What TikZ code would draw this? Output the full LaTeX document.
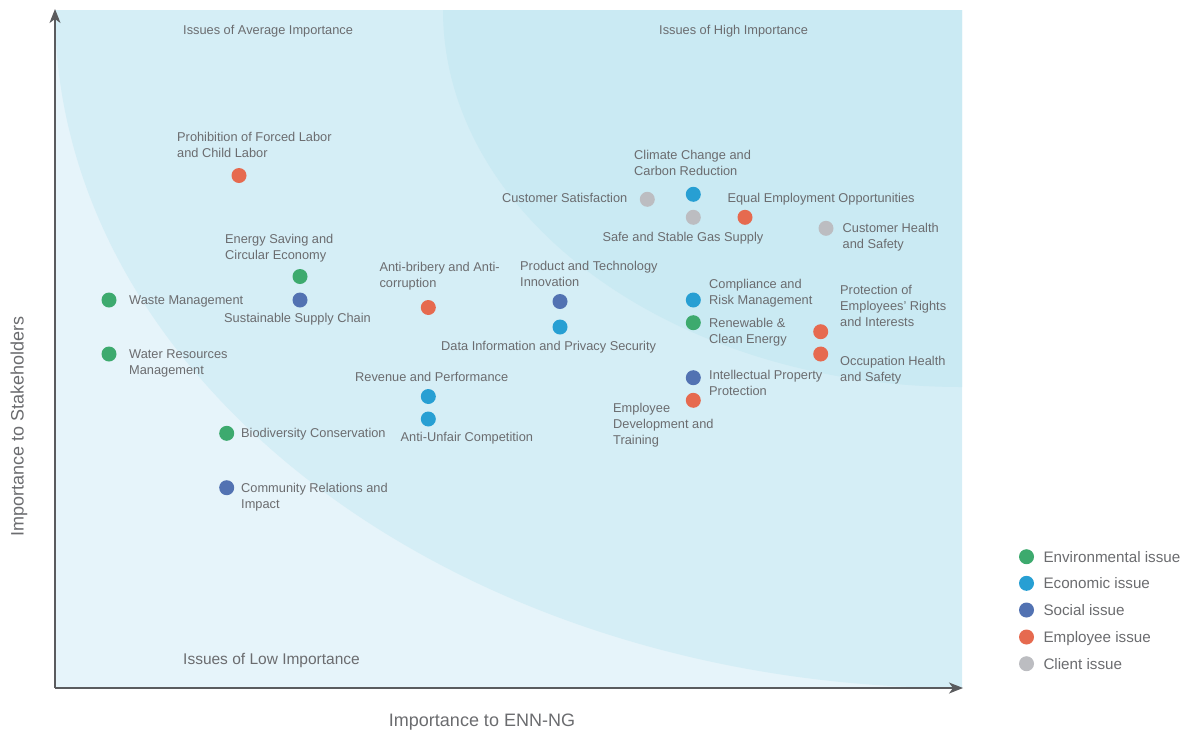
\documentclass[tikz,border=0pt]{standalone}
\usepackage{fontspec}
\setmainfont{Liberation Sans}
\usetikzlibrary{arrows.meta}
\definecolor{bglow}{HTML}{E6F4FA}
\definecolor{bgmid}{HTML}{D5EEF6}
\definecolor{bghigh}{HTML}{CAEAF3}
\definecolor{axisc}{HTML}{5A5B5E}
\definecolor{txt}{HTML}{6B6C6F}
\definecolor{envc}{HTML}{3DAA6E}
\definecolor{ecoc}{HTML}{279FD3}
\definecolor{socc}{HTML}{5272B2}
\definecolor{empc}{HTML}{E66A4F}
\definecolor{clic}{HTML}{BCBDC1}
\newcommand{\mlines}[1]{\begin{tabular}[t]{@{}l@{}}#1\end{tabular}}
\begin{document}
\begin{tikzpicture}[x=1pt,y=-1pt,
  dot/.style={circle,inner sep=0pt,minimum size=15pt,fill=#1},
  lbl/.style={anchor=base west,inner sep=0pt,text=txt,font=\fontsize{12.8}{16}\selectfont},
  lblr/.style={lbl,anchor=base east},
  zone/.style={lbl},
  leg/.style={anchor=base west,inner sep=0pt,text=txt,font=\fontsize{15.2}{18}\selectfont},
  axlbl/.style={inner sep=0pt,text=txt,font=\fontsize{18}{20}\selectfont},
  axisline/.style={draw=axisc,line width=1.3pt,-{Stealth[length=14pt,width=11pt,inset=4pt]}}]
\useasboundingbox (0,0) rectangle (1183,732);
% background zones
\fill[bglow] (55,10) rectangle (962,688);
\begin{scope}
  \clip (55,10) rectangle (962,688);
  \fill[bgmid] (962,10) ellipse [x radius=907, y radius=678];
  \fill[bghigh] (962,10) ellipse [x radius=519, y radius=377];
\end{scope}
% axes
\coordinate (O) at (55,688);
\coordinate (ytop) at (55,9);
\coordinate (xend) at (963,688);
\draw[axisline] (O) -- (ytop);
\draw[axisline] (O) -- (xend);
% zone labels
\node[zone] (zavg) at (183,34.5) {Issues of Average Importance};
\node[zone] (zhigh) at (659,34.5) {Issues of High Importance};
\node[zone,font=\fontsize{15.5}{18}\selectfont] (zlow) at (183,664) {Issues of Low Importance};
% axis labels
\node[axlbl,anchor=base] (xl) at (482,726.5) {Importance to ENN-NG};
\node[axlbl,anchor=base,rotate=90] (yl) at (23.5,426.5) {Importance to Stakeholders};
% issues
\node[dot=empc] (d1) at (239,175.5) {};
\node[lbl] (l1) at (177,141.7) {\mlines{Prohibition of Forced Labor\\and Child Labor}};
\node[dot=envc] (d2) at (300,276.5) {};
\node[lbl] (l2) at (225,243) {\mlines{Energy Saving and\\Circular Economy}};
\node[dot=socc] (d3) at (300,300) {};
\node[lbl] (l3) at (224,322.5) {Sustainable Supply Chain};
\node[dot=envc] (d4) at (109,300) {};
\node[lbl] (l4) at (129,304.5) {Waste Management};
\node[dot=envc] (d5) at (109,354) {};
\node[lbl] (l5) at (129,358.5) {\mlines{Water Resources\\Management}};
\node[dot=empc] (d6) at (428.3,307.5) {};
\node[lbl] (l6) at (379.3,271.7) {\mlines{Anti-bribery and Anti-\\corruption}};
\node[dot=socc] (d7) at (560,301.5) {};
\node[lbl] (l7) at (520,270) {\mlines{Product and Technology\\Innovation}};
\node[dot=ecoc] (d8) at (560,327) {};
\node[lbl] (l8) at (441,350) {Data Information and Privacy Security};
\node[dot=ecoc] (d9) at (428.3,396.5) {};
\node[lbl] (l9) at (355,381.7) {Revenue and Performance};
\node[dot=ecoc] (d10) at (428.3,419) {};
\node[lbl] (l10) at (400.5,441.7) {Anti-Unfair Competition};
\node[dot=envc] (d11) at (226.7,433.3) {};
\node[lbl] (l11) at (241,437.8) {Biodiversity Conservation};
\node[dot=socc] (d12) at (226.7,487.7) {};
\node[lbl] (l12) at (241,492) {\mlines{Community Relations and\\Impact}};
\node[dot=ecoc] (d13) at (693.3,194.3) {};
\node[lbl] (l13) at (634,159.5) {\mlines{Climate Change and\\Carbon Reduction}};
\node[dot=clic] (d14) at (647.3,199.3) {};
\node[lblr] (l14) at (627.5,202) {Customer Satisfaction};
\node[dot=clic] (d15) at (693.3,217.3) {};
\node[lbl] (l15) at (602.3,241) {Safe and Stable Gas Supply};
\node[dot=empc] (d16) at (745,217.3) {};
\node[lbl] (l16) at (727.3,202) {Equal Employment Opportunities};
\node[dot=clic] (d17) at (826,228.3) {};
\node[lbl] (l17) at (842.5,232) {\mlines{Customer Health\\and Safety}};
\node[dot=ecoc] (d18) at (693.3,300) {};
\node[lbl] (l18) at (709,288.8) {\mlines{Compliance and\\Risk Management}};
\node[dot=envc] (d19) at (693.3,322.7) {};
\node[lbl] (l19) at (709,327.5) {\mlines{Renewable \&\\Clean Energy}};
\node[dot=empc] (d20) at (820.7,331.7) {};
\node[lbl] (l20) at (840,294.8) {\mlines{Protection of\\Employees' Rights\\and Interests}};
\node[dot=empc] (d21) at (820.7,354) {};
\node[lbl] (l21) at (840,365.8) {\mlines{Occupation Health\\and Safety}};
\node[dot=socc] (d22) at (693.3,377.7) {};
\node[lbl] (l22) at (709,379.8) {\mlines{Intellectual Property\\Protection}};
\node[dot=empc] (d23) at (693.3,400.3) {};
\node[lbl] (l23) at (613,412.8) {\mlines{Employee\\Development and\\Training}};
% legend
\node[dot=envc] (g1) at (1026.5,556.7) {};
\node[leg] (t1) at (1043.3,562) {Environmental issue};
\node[dot=ecoc] (g2) at (1026.5,583.3) {};
\node[leg] (t2) at (1043.3,588.6) {Economic issue};
\node[dot=socc] (g3) at (1026.5,610) {};
\node[leg] (t3) at (1043.3,615.3) {Social issue};
\node[dot=empc] (g4) at (1026.5,637) {};
\node[leg] (t4) at (1043.3,642.3) {Employee issue};
\node[dot=clic] (g5) at (1026.5,663.7) {};
\node[leg] (t5) at (1043.3,669) {Client issue};
\end{tikzpicture}
\end{document}
